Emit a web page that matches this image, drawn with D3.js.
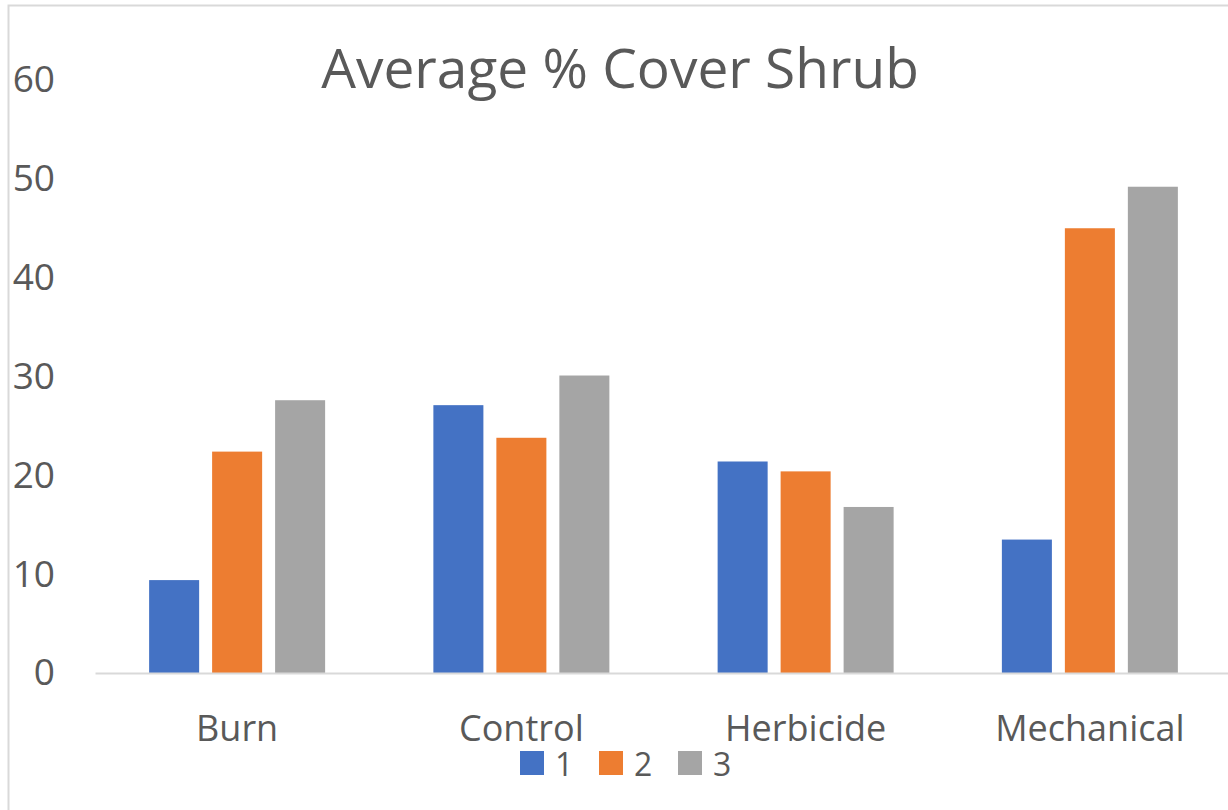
<!DOCTYPE html>
<html>
<head>
<meta charset="utf-8">
<script src="https://cdn.jsdelivr.net/npm/d3@7"></script>
<style>
  body { margin: 0; background: #fff; }
  text { font-family: "Open Sans", sans-serif; fill: #595959; }
</style>
</head>
<body>
<div id="chart"></div>
<script>
var categories = ['Burn', 'Control', 'Herbicide', 'Mechanical'];
var seriesNames = ['1', '2', '3'];
var series1 = [9.4, 27.1, 21.4, 13.5];
var series2 = [22.4, 23.8, 20.4, 45.0];
var series3 = [27.6, 30.1, 16.8, 49.2];
var yTicks = [0, 10, 20, 30, 40, 50, 60];
var colors = ['#4472c4', '#ed7d31', '#a5a5a5'];

var width = 1228;
var height = 810;

var svg = d3.select('#chart')
  .append('svg')
  .attr('width', width)
  .attr('height', height);

// chart frame (cut off on the right and bottom)
svg.append('rect')
  .attr('x', 8.5)
  .attr('y', 5.5)
  .attr('width', 1300)
  .attr('height', 900)
  .attr('fill', 'none')
  .attr('stroke', '#d9d9d9')
  .attr('stroke-width', 2);

var x0 = d3.scaleBand()
  .domain(categories)
  .range([95, 1232]);

var groupWidth = 176;
var x1 = d3.scaleBand()
  .domain(seriesNames)
  .range([0, groupWidth])
  .paddingInner(0.206);

var y = d3.scaleLinear()
  .domain([0, 60])
  .range([673, 80]);

var rows = categories.map(function(c, i) {
  return { cat: c, values: [series1[i], series2[i], series3[i]] };
});

// title
svg.append('text')
  .attr('x', 620)
  .attr('y', 88)
  .attr('text-anchor', 'middle')
  .style('font-size', '55px')
  .text('Average % Cover Shrub');

// y axis labels
svg.append('g')
  .attr('transform', 'translate(55,0)')
  .call(d3.axisLeft(y).tickValues(yTicks).tickSize(0).tickPadding(0))
  .call(function(g) { g.select('.domain').remove(); })
  .selectAll('text')
  .style('font-size', '37px')
  .style('fill', '#595959');

// bars
var groups = svg.selectAll('.group')
  .data(rows)
  .enter()
  .append('g')
  .attr('class', 'group')
  .attr('transform', function(d) {
    return 'translate(' + (x0(d.cat) + (x0.bandwidth() - groupWidth) / 2) + ',0)';
  });

groups.selectAll('rect')
  .data(function(d) {
    return d.values.map(function(v, i) { return { key: seriesNames[i], value: v, i: i }; });
  })
  .enter()
  .append('rect')
  .attr('x', function(d) { return x1(d.key); })
  .attr('y', function(d) { return y(d.value); })
  .attr('width', x1.bandwidth())
  .attr('height', function(d) { return y(0) - y(d.value); })
  .attr('fill', function(d) { return colors[d.i]; });

// x axis
var xAxis = svg.append('g')
  .attr('transform', 'translate(0,' + y(0) + ')')
  .call(d3.axisBottom(x0).tickSize(0).tickPadding(0));

xAxis.select('.domain')
  .attr('stroke', '#d9d9d9')
  .attr('stroke-width', 2);

xAxis.selectAll('text')
  .attr('dy', null)
  .attr('y', 68)
  .style('font-size', '36px')
  .style('fill', '#595959');

// legend
var legendX = [520, 599, 678];
var legend = svg.selectAll('.legend')
  .data(seriesNames)
  .enter()
  .append('g')
  .attr('class', 'legend')
  .attr('transform', function(d, i) { return 'translate(' + legendX[i] + ',751)'; });

legend.append('rect')
  .attr('width', 24)
  .attr('height', 24)
  .attr('fill', function(d, i) { return colors[i]; });

legend.append('text')
  .attr('x', 35)
  .attr('y', 25)
  .style('font-size', '32px')
  .text(function(d) { return d; });
</script>
</body>
</html>
